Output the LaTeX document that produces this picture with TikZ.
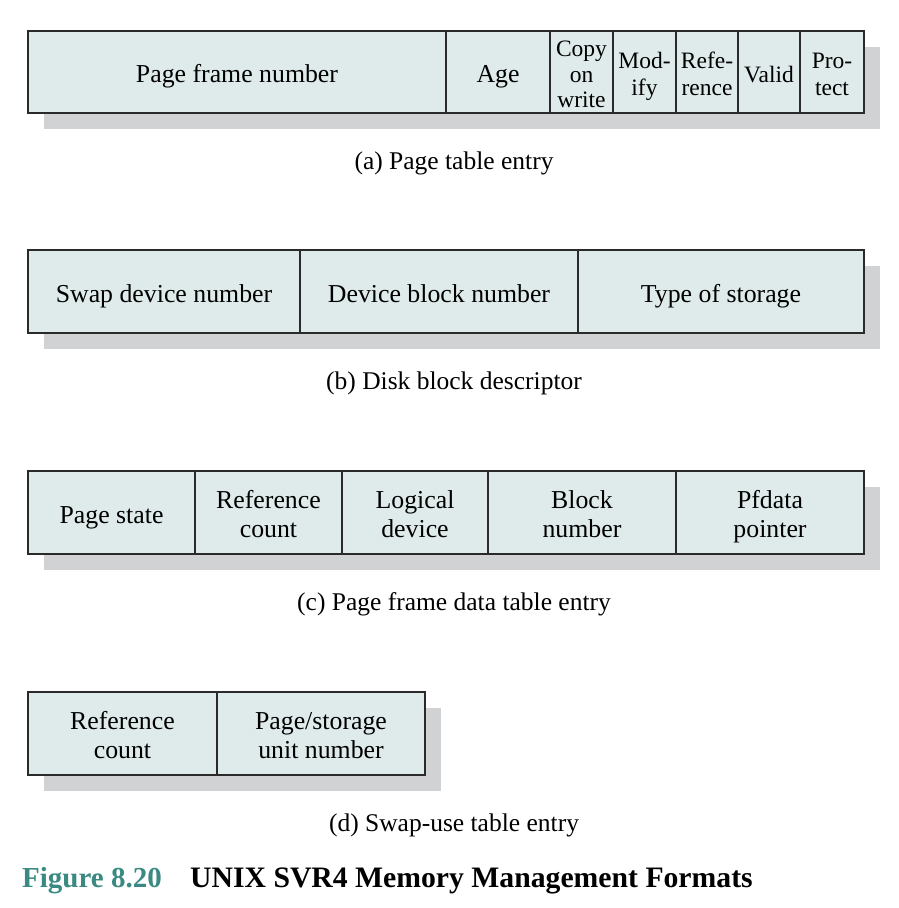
\documentclass[tikz,border=0pt]{standalone}
\usepackage{fontspec}
\setmainfont{Liberation Serif}
\definecolor{cellfill}{HTML}{DEEBEA}
\definecolor{shadowc}{HTML}{D1D2D4}
\definecolor{linec}{HTML}{2A2A2A}
\definecolor{teal}{HTML}{3A8A83}
\tikzset{
  cell/.style={draw=linec, line width=1.3pt, fill=cellfill, inner sep=0pt, minimum height=83pt},
  lbl/.style={inner sep=0pt, yshift=-5pt, align=center, font=\fontsize{25.8}{29}\selectfont},
  lbln/.style={lbl, font=\fontsize{23.5}{27}\selectfont},
  lblt/.style={lbl, font=\fontsize{23.5}{25.5}\selectfont},
  caption/.style={inner sep=0pt, font=\fontsize{25.5}{28}\selectfont},
  shadowbox/.style={fill=shadowc}
}
\begin{document}
\begin{tikzpicture}[x=1pt,y=-1pt]
\useasboundingbox (0,0) rectangle (898,908);
% (a)
\fill[shadowbox] (44,47) rectangle (880,129);
\node[cell, minimum height=82pt, minimum width=418pt, label={[lbl]center:{Page frame number\strut}}] (a1) at (237,72) {};
\node[cell, minimum height=82pt, minimum width=104pt, label={[lbl]center:{Age\strut}}] (a2) at (498,72) {};
\node[cell, minimum height=82pt, minimum width=63pt, label={[lblt]center:{Copy\strut\\on\strut\\write\strut}}] (a3) at (581.5,72) {};
\node[cell, minimum height=82pt, minimum width=63pt, label={[lbln]center:{Mod-\strut\\ify\strut}}] (a4) at (644.5,72) {};
\node[cell, minimum height=82pt, minimum width=62pt, label={[lbln]center:{Refe-\strut\\rence\strut}}] (a5) at (707,72) {};
\node[cell, minimum height=82pt, minimum width=62pt, label={[lbln]center:{Valid\strut}}] (a6) at (769,72) {};
\node[cell, minimum height=82pt, minimum width=64pt, label={[lbln]center:{Pro-\strut\\tect\strut}}] (a7) at (832,72) {};
\node[caption] (capa) at (454,163) {(a) Page table entry};
% (b)
\fill[shadowbox] (44,266) rectangle (880,349);
\node[cell, minimum width=272pt, label={[lbl]center:{Swap device number\strut}}] (b1) at (164,291.5) {};
\node[cell, minimum width=278pt, label={[lbl]center:{Device block number\strut}}] (b2) at (439,291.5) {};
\node[cell, minimum width=286pt, label={[lbl]center:{Type of storage\strut}}] (b3) at (721,291.5) {};
\node[caption] (capb) at (454,383) {(b) Disk block descriptor};
% (c)
\fill[shadowbox] (44,487) rectangle (880,570);
\node[cell, minimum width=167pt, label={[lbl]center:{Page state\strut}}] (c1) at (111.5,512.5) {};
\node[cell, minimum width=147pt, label={[lbl]center:{Reference\strut\\count\strut}}] (c2) at (268.5,512.5) {};
\node[cell, minimum width=146pt, label={[lbl]center:{Logical\strut\\device\strut}}] (c3) at (415,512.5) {};
\node[cell, minimum width=188pt, label={[lbl]center:{Block\strut\\number\strut}}] (c4) at (582,512.5) {};
\node[cell, minimum width=188pt, label={[lbl]center:{Pfdata\strut\\pointer\strut}}] (c5) at (770,512.5) {};
\node[caption] (capc) at (454,604) {(c) Page frame data table entry};
% (d)
\fill[shadowbox] (44,708) rectangle (441,791);
\node[cell, minimum width=189pt, label={[lbl]center:{Reference\strut\\count\strut}}] (d1) at (122.5,733.5) {};
\node[cell, minimum width=208pt, label={[lbl]center:{Page/storage\strut\\unit number\strut}}] (d2) at (321,733.5) {};
\node[caption] (capd) at (454,825) {(d) Swap-use table entry};
% title
\node[anchor=base west, inner sep=0pt, text=teal, font=\fontsize{29}{32}\bfseries\selectfont] (fig) at (22,887) {Figure 8.20};
\node[anchor=base west, inner sep=0pt, font=\fontsize{29.7}{32}\bfseries\selectfont] (title) at (190,887) {UNIX SVR4 Memory Management Formats};
\end{tikzpicture}
\end{document}
